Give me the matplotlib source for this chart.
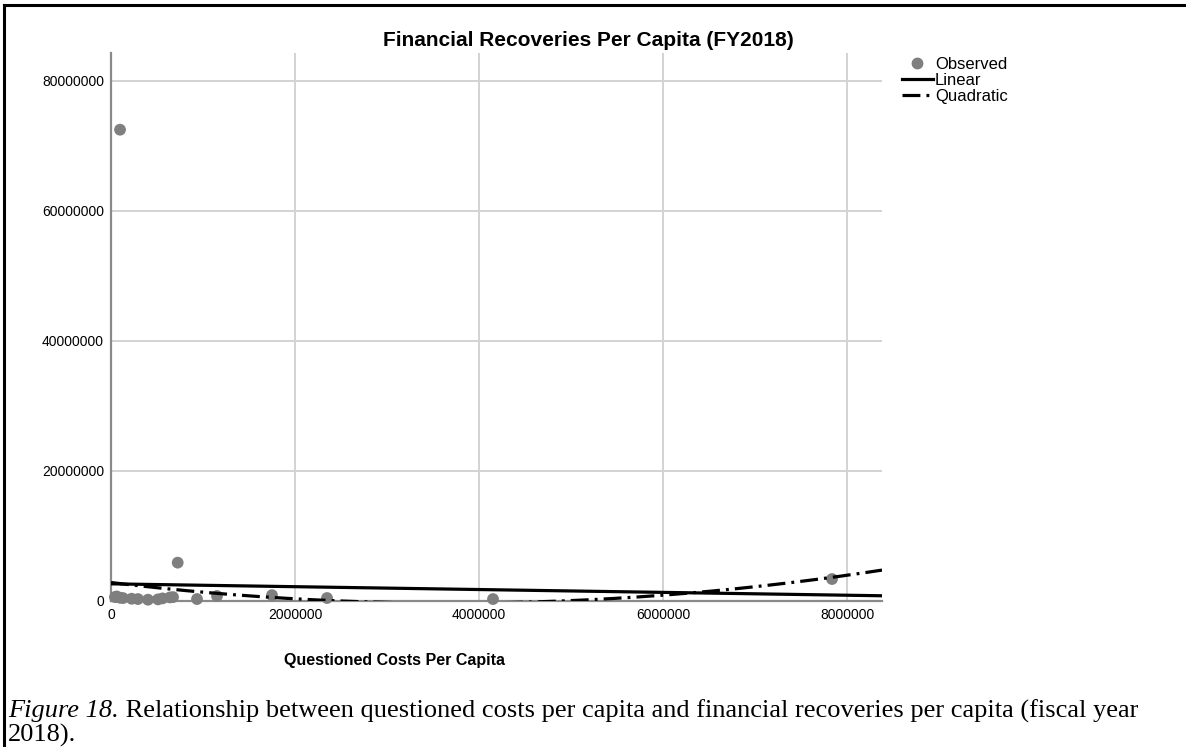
import numpy as np
import matplotlib
matplotlib.use("Agg")
import matplotlib.pyplot as plt
from matplotlib.lines import Line2D

# ---- data ----
questioned_costs = [43000, 62000, 98000, 130000, 225000, 293000, 402000, 511000,
                    560000, 641000, 674000, 725000, 935000, 1152000, 1750000,
                    2348000, 4152000, 7837000, 98000]
financial_recoveries = [600000, 700000, 72500000, 450000, 350000, 300000, 200000, 250000,
                        400000, 550000, 600000, 5900000, 300000, 770000, 900000,
                        460000, 300000, 3380000, 500000]
linear_coef = [2640000.0, -0.219]            # intercept, slope
quadratic_coef = [2842000.0, -1.716, 2.32e-7]  # a, b, c
x_ticks = [0, 2000000, 4000000, 6000000, 8000000]
y_ticks = [0, 20000000, 40000000, 60000000, 80000000]
title = "Financial Recoveries Per Capita (FY2018)"
x_label = "Questioned Costs Per Capita"
legend_labels = ["Observed", "Linear", "Quadratic"]
caption_italic = "Figure 18."
caption_rest_1 = " Relationship between questioned costs per capita and financial recoveries per capita (fiscal year"
caption_line_2 = "2018)."

W, H = 1186, 747
fig = plt.figure(figsize=(W / 100, H / 100), dpi=100)
plt.rcParams['font.family'] = ['Liberation Sans', 'DejaVu Sans']

def fx(px):
    return px / W

def fy(py):
    return 1 - py / H

ax_l, ax_r, ax_t, ax_b = 111, 882, 53, 601
ax = fig.add_axes([fx(ax_l), fy(ax_b), (ax_r - ax_l) / W, (ax_b - ax_t) / H])

xmax = 8380000
ymax = 84300000
ax.set_xlim(0, xmax)
ax.set_ylim(0, ymax)

ax.grid(True, color='#d2d2d2', linewidth=1.4, zorder=0)
ax.set_axisbelow(True)
for s in ['top', 'right']:
    ax.spines[s].set_visible(False)
for s in ['left', 'bottom']:
    ax.spines[s].set_color('#8a8a8a')
    ax.spines[s].set_linewidth(1.6)

ax.set_xticks(x_ticks)
ax.set_yticks(y_ticks)
ax.set_xticklabels([str(v) for v in x_ticks])
ax.set_yticklabels([str(v) for v in y_ticks])
ax.tick_params(length=0, labelsize=10, pad=5)

ax.scatter(questioned_costs, financial_recoveries, s=72, color='#7f7f7f',
           edgecolors='none', zorder=3, clip_on=False)

dash = (0, (5.6, 1.9, 0.9, 1.9))
xs = np.linspace(0, xmax, 400)
y_lin = linear_coef[0] + linear_coef[1] * xs
y_quad = quadratic_coef[0] + quadratic_coef[1] * xs + quadratic_coef[2] * xs ** 2
ax.plot(xs, y_lin, color='black', linewidth=2.3, zorder=4)
ax.plot(xs, y_quad, color='black', linewidth=2.3, zorder=4, linestyle=dash)

handles = [
    Line2D([], [], marker='o', color='#7f7f7f', linestyle='none', markersize=7.5),
    Line2D([], [], color='black', linewidth=2.3),
    Line2D([], [], color='black', linewidth=2.3, linestyle=dash),
]
leg = fig.legend(handles, legend_labels, loc='upper left',
                 bbox_to_anchor=(fx(902), fy(57)), frameon=False,
                 fontsize=12, handlelength=1.85, handletextpad=0.12,
                 labelspacing=0.05, borderpad=0, borderaxespad=0)

fig.text(fx(588), fy(41), title, ha='center', va='center',
         fontsize=15, fontweight='bold')
fig.text(fx(394), fy(661), x_label, ha='center', va='center',
         fontsize=11.5, fontweight='bold')

# caption
fig.canvas.draw()
r = fig.canvas.get_renderer()
cap_fs = 19
t1 = fig.text(fx(8), fy(711), caption_italic, ha='left', va='center',
              fontsize=cap_fs, family='Liberation Serif', style='italic')
bb = t1.get_window_extent(renderer=r)
fig.text(bb.x1 / W, fy(711), caption_rest_1, ha='left', va='center',
         fontsize=cap_fs, family='Liberation Serif')
fig.text(fx(8), fy(735), caption_line_2, ha='left', va='center',
         fontsize=cap_fs, family='Liberation Serif')

# border lines (top and left)
fig.add_artist(Line2D([fx(4), 1], [fy(5), fy(5)], color='black', linewidth=2.2,
                      transform=fig.transFigure))
fig.add_artist(Line2D([fx(4), fx(4)], [fy(5), 0], color='black', linewidth=2.2,
                      transform=fig.transFigure))

fig.savefig('out.png', dpi=100)
